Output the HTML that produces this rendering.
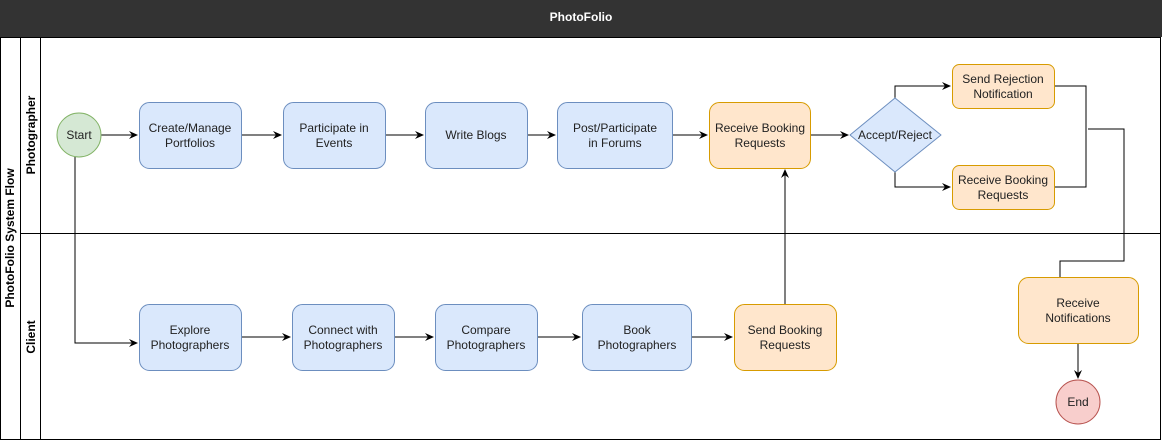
<!DOCTYPE html>
<html><head><style>
body{margin:0;width:1162px;height:441px;background:#fff;overflow:hidden}
</style></head><body>
<svg width="1162" height="441" xmlns="http://www.w3.org/2000/svg" font-family="Liberation Sans, sans-serif" font-size="12">
<defs><marker id="a" markerWidth="10" markerHeight="10" refX="8" refY="5" orient="auto" markerUnits="userSpaceOnUse"><path d="M0,1 L9,5 L0,9 L3,5z" fill="#000"/></marker></defs>
<rect x="0" y="0" width="1162" height="37" fill="#333"/>
<text x="581" y="21" fill="#fff" font-weight="bold" text-anchor="middle">PhotoFolio</text>
<rect x="0.5" y="37.5" width="1160" height="402" fill="none" stroke="#000"/>
<line x1="20.5" y1="37" x2="20.5" y2="440" stroke="#000"/>
<line x1="40.5" y1="37" x2="40.5" y2="440" stroke="#000"/>
<line x1="20" y1="233.5" x2="1161" y2="233.5" stroke="#000"/>
<text transform="translate(14,238) rotate(-90)" font-weight="bold" text-anchor="middle">PhotoFolio System Flow</text>
<text transform="translate(35,135) rotate(-90)" font-weight="bold" text-anchor="middle">Photographer</text>
<text transform="translate(35,337) rotate(-90)" font-weight="bold" text-anchor="middle">Client</text>
<g stroke="#000" fill="none">
<path d="M101,135H137" marker-end="url(#a)"/>
<path d="M241,135H281" marker-end="url(#a)"/>
<path d="M385,135H423" marker-end="url(#a)"/>
<path d="M527,135H555" marker-end="url(#a)"/>
<path d="M672,135H707" marker-end="url(#a)"/>
<path d="M810,135H848" marker-end="url(#a)"/>
<path d="M895,98V86H950" marker-end="url(#a)"/>
<path d="M895,172V187H950" marker-end="url(#a)"/>
<path d="M1054,86H1086V187H1054"/>
<path d="M1088,129H1124V261H1060V277"/>
<path d="M1078,343V378" marker-end="url(#a)"/>
<path d="M75,156V343H137" marker-end="url(#a)"/>
<path d="M241,337H290" marker-end="url(#a)"/>
<path d="M394,337H433" marker-end="url(#a)"/>
<path d="M537,337H580" marker-end="url(#a)"/>
<path d="M691,337H732" marker-end="url(#a)"/>
<path d="M785,304V170" marker-end="url(#a)"/>
</g>
<g stroke-width="1">
<circle cx="79" cy="135" r="22" fill="#d5e8d4" stroke="#82b366"/>
<rect x="139.5" y="102.5" width="102" height="66" rx="10" fill="#dae8fc" stroke="#6c8ebf"/>
<rect x="283.5" y="102.5" width="102" height="66" rx="10" fill="#dae8fc" stroke="#6c8ebf"/>
<rect x="425.5" y="102.5" width="102" height="66" rx="10" fill="#dae8fc" stroke="#6c8ebf"/>
<rect x="557.5" y="102.5" width="115" height="66" rx="10" fill="#dae8fc" stroke="#6c8ebf"/>
<rect x="709.5" y="102.5" width="101" height="66" rx="10" fill="#ffe6cc" stroke="#d79b00"/>
<path d="M895,98 L941,135 L895,172 L850,135Z" fill="#dae8fc" stroke="#6c8ebf" stroke-linejoin="round"/>
<rect x="952.5" y="64.5" width="102" height="44" rx="7" fill="#ffe6cc" stroke="#d79b00"/>
<rect x="952.5" y="165.5" width="102" height="44" rx="7" fill="#ffe6cc" stroke="#d79b00"/>
<rect x="1018.5" y="277.5" width="120" height="66" rx="10" fill="#ffe6cc" stroke="#d79b00"/>
<circle cx="1078" cy="402" r="22" fill="#f8cecc" stroke="#b85450"/>
<rect x="139.5" y="304.5" width="102" height="66" rx="10" fill="#dae8fc" stroke="#6c8ebf"/>
<rect x="292.5" y="304.5" width="102" height="66" rx="10" fill="#dae8fc" stroke="#6c8ebf"/>
<rect x="435.5" y="304.5" width="102" height="66" rx="10" fill="#dae8fc" stroke="#6c8ebf"/>
<rect x="582.5" y="304.5" width="109" height="66" rx="10" fill="#dae8fc" stroke="#6c8ebf"/>
<rect x="734.5" y="304.5" width="102" height="66" rx="10" fill="#ffe6cc" stroke="#d79b00"/>
</g>
<g fill="#222" text-anchor="middle">
<text x="79" y="139">Start</text>
<text x="190" y="132">Create/Manage</text><text x="190" y="147">Portfolios</text>
<text x="334" y="132">Participate in</text><text x="334" y="147">Events</text>
<text x="476" y="139">Write Blogs</text>
<text x="615" y="132">Post/Participate</text><text x="615" y="147">in Forums</text>
<text x="760" y="132">Receive Booking</text><text x="760" y="147">Requests</text>
<text x="895" y="139">Accept/Reject</text>
<text x="1003" y="83">Send Rejection</text><text x="1003" y="98">Notification</text>
<text x="1003" y="184">Receive Booking</text><text x="1003" y="199">Requests</text>
<text x="1078" y="307">Receive</text><text x="1078" y="322">Notifications</text>
<text x="1078" y="406">End</text>
<text x="190" y="334">Explore</text><text x="190" y="349">Photographers</text>
<text x="343" y="334">Connect with</text><text x="343" y="349">Photographers</text>
<text x="486" y="334">Compare</text><text x="486" y="349">Photographers</text>
<text x="637" y="334">Book</text><text x="637" y="349">Photographers</text>
<text x="785" y="334">Send Booking</text><text x="785" y="349">Requests</text>
</g>
</svg>
</body></html>
